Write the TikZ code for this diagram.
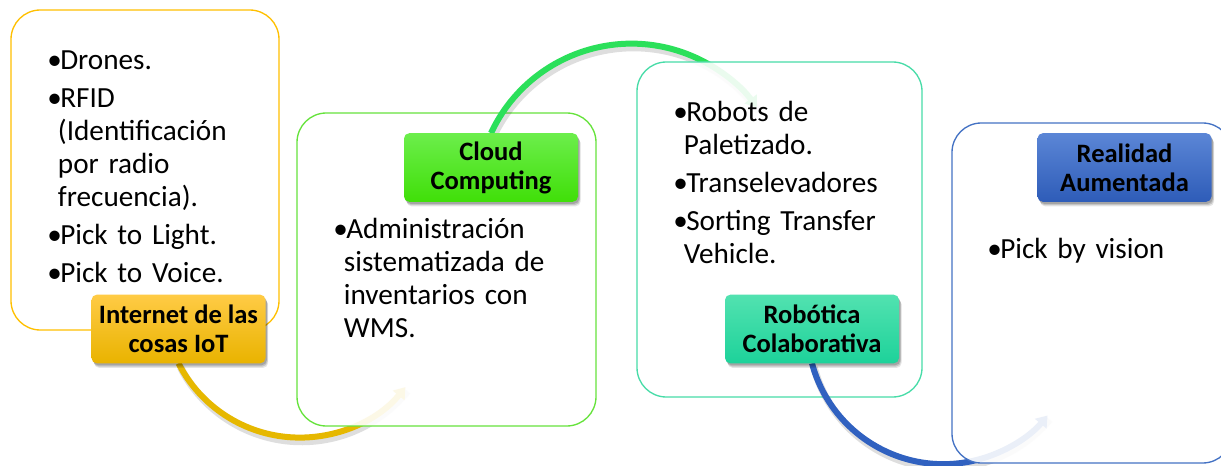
\documentclass[tikz,border=0pt]{standalone}
\usepackage{fontspec}
\setmainfont{Carlito}
\usetikzlibrary{arrows.meta}
\definecolor{yBord}{HTML}{FFC000}
\definecolor{yTop}{HTML}{FFCB45}
\definecolor{yBot}{HTML}{E9B300}
\definecolor{yArr}{HTML}{E6B800}
\definecolor{gBord}{HTML}{66E33C}
\definecolor{gTop}{HTML}{6CEE4C}
\definecolor{gBot}{HTML}{40DF08}
\definecolor{gArr}{HTML}{2BE05A}
\definecolor{tBord}{HTML}{48DCA8}
\definecolor{tTop}{HTML}{52E2B0}
\definecolor{tBot}{HTML}{1DD29A}
\definecolor{bBord}{HTML}{4472C4}
\definecolor{bTop}{HTML}{5B86D6}
\definecolor{bBot}{HTML}{2E5CB8}
\definecolor{bArr}{HTML}{3061C0}
\newcommand\mytagfont{\bfseries\fontsize{19.9pt}{21.75pt}\selectfont}
\newcommand\mybodyfont{\fontsize{21.9pt}{24.75pt}\selectfont\raggedright\setlength{\parskip}{3.75pt}}
\newcommand\bul[1]{\par\hangindent=8pt\hangafter=1\noindent\makebox[9.75pt][l]{•}\rule{0pt}{15pt}#1\par}
\pgfdeclarelayer{bgone}
\pgfdeclarelayer{arcone}
\pgfdeclarelayer{midone}
\pgfdeclarelayer{arctwo}
\pgfdeclarelayer{midtwo}
\pgfdeclarelayer{arcthree}
\pgfsetlayers{bgone,arcone,midone,arctwo,midtwo,arcthree,main}
\begin{document}
\begin{tikzpicture}[x=0.75pt,y=-0.75pt,
  panel/.style={draw=#1, line width=1pt, rounded corners=22pt, fill=white, fill opacity=0.9, draw opacity=1, anchor=north west, inner sep=0pt, outer sep=0pt},
  tag/.style n args={2}{top color=#1, bottom color=#2, draw=none, rounded corners=4pt, minimum width=130.5pt, minimum height=51.5pt, align=center, inner sep=0pt, outer sep=0pt, font=\mytagfont,
    preaction={draw=none, fill=black, opacity=0.10, transform canvas={shift={(2pt,-3.5pt)}}},
    preaction={draw=none, fill=black, opacity=0.14, transform canvas={shift={(1.5pt,-2.5pt)}}},
    preaction={draw=none, fill=black, opacity=0.16, transform canvas={shift={(1pt,-1.5pt)}}}},
  txt/.style={anchor=north west, inner sep=0pt, text width=175pt, font=\mybodyfont},
  flow/.style={line width=4.5pt, draw=#1, -{Triangle[length=8pt,width=11pt]}},
  flowshadow/.style={line width=5.5pt, draw=black, opacity=0.13}
]
\clip (0,0) rectangle (1221,466);

\begin{pgfonlayer}{bgone}
\fill[white] (0,0) rectangle (1221,466);
\node[panel=yBord, minimum width=201pt, minimum height=240pt] (box1) at (11,10) {};
\end{pgfonlayer}
\begin{pgfonlayer}{midone}
\node[tag={yTop}{yBot}] (lab1) at (178.5,329) {Internet de las\\cosas IoT};
\node[panel=gBord, minimum width=224.25pt, minimum height=234.75pt] (box2) at (297,113) {};
\end{pgfonlayer}
\begin{pgfonlayer}{midtwo}
\node[tag={gTop}{gBot}] (lab2) at (491,167.5) {Cloud\\Computing};
\node[panel=tBord, minimum width=213.75pt, minimum height=251.25pt] (box3) at (637,62) {};
\end{pgfonlayer}
\node[tag={tTop}{tBot}] (lab3) at (812,329) {Robótica\\Colaborativa};
\node[panel=bBord, minimum width=210pt, minimum height=255pt] (box4) at (952,123) {};
\node[tag={bTop}{bBot}] (lab4) at (1124.5,167.5) {Realidad\\Aumentada};

\begin{pgfonlayer}{arcone}
\draw[flowshadow] ([shift={(2,4)}]lab1.south) arc[start angle=153, end angle=39, radius=136];
\draw[flow=yArr] (lab1.south) arc[start angle=153, end angle=39, radius=136];
\end{pgfonlayer}
\begin{pgfonlayer}{arctwo}
\draw[flowshadow] ([shift={(2,4)}]lab2.north) arc[start angle=205, end angle=324, radius=155];
\draw[flow=gArr] (lab2.north) arc[start angle=205, end angle=324, radius=155];
\end{pgfonlayer}
\begin{pgfonlayer}{arcthree}
\draw[flowshadow] ([shift={(2,4)}]lab3.south) arc[start angle=165, end angle=40, radius=136];
\draw[flow=bArr] (lab3.south) arc[start angle=165, end angle=40, radius=136];
\end{pgfonlayer}

\node[txt] (t1) at (47,31) {\bul{Drones.}\bul{RFID\newline (Identificación\newline por radio\newline frecuencia).}\bul{Pick to Light.}\bul{Pick to Voice.}};
\node[txt] (t2) at (333,200) {\bul{Administración\newline sistematizada de\newline inventarios con\newline WMS.}};
\node[txt] (t3) at (673,83) {\bul{Robots de\newline Paletizado.}\bul{Transelevadores}\bul{Sorting Transfer\newline Vehicle.}};
\node[txt] (t4) at (987,220) {\bul{Pick by vision}};
\end{tikzpicture}
\end{document}
